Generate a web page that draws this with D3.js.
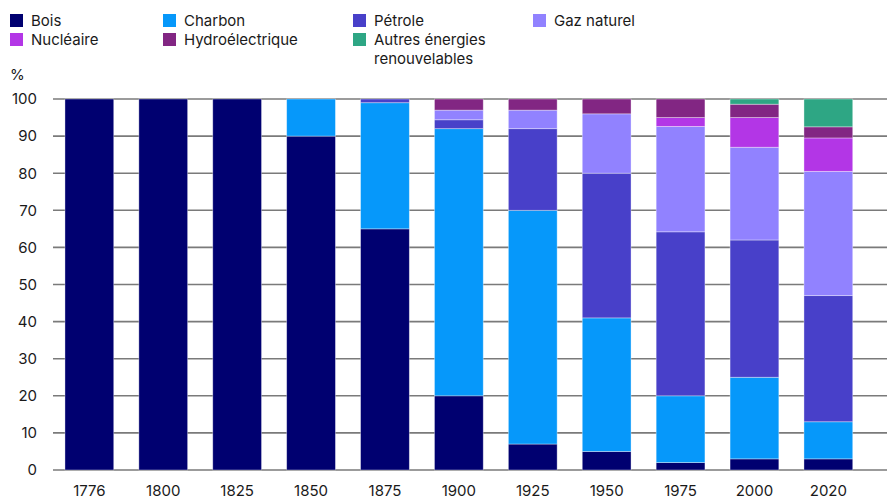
<!DOCTYPE html>
<html>
<head>
<meta charset="utf-8">
<script src="https://cdn.jsdelivr.net/npm/d3@7"></script>
<style>
  html, body { margin: 0; padding: 0; background: #fff; }
  svg { display: block; font-family: Inter, "Noto Sans", sans-serif; }
</style>
</head>
<body>
<svg id="chart" width="887" height="499"></svg>
<script>
// Années
const years = ["1776", "1800", "1825", "1850", "1875", "1900", "1925", "1950", "1975", "2000", "2020"];

// Part de chaque source dans la consommation d'énergie (%)
const bois          = [100, 100, 100, 90, 65, 20, 7, 5, 2, 3, 3];
const charbon       = [0, 0, 0, 10, 34, 72, 63, 36, 18, 22, 10];
const petrole       = [0, 0, 0, 0, 1, 2.4, 22, 39, 44.2, 37, 34];
const gazNaturel    = [0, 0, 0, 0, 0, 2.6, 5, 16, 28.4, 25, 33.5];
const nucleaire     = [0, 0, 0, 0, 0, 0, 0, 0, 2.4, 8, 9];
const hydro         = [0, 0, 0, 0, 0, 3, 3, 4, 5, 3.6, 3];
const autresRenouv  = [0, 0, 0, 0, 0, 0, 0, 0, 0, 1.4, 7.5];

const yTicks = [0, 10, 20, 30, 40, 50, 60, 70, 80, 90, 100];

const seriesDefs = [
  { key: "bois",   label: ["Bois"],                             values: bois,         color: "#000070" },
  { key: "charb",  label: ["Charbon"],                          values: charbon,      color: "#0698fa" },
  { key: "petr",   label: ["Pétrole"],                          values: petrole,      color: "#4840c9" },
  { key: "gaz",    label: ["Gaz naturel"],                      values: gazNaturel,   color: "#9182ff" },
  { key: "nuc",    label: ["Nucléaire"],                        values: nucleaire,    color: "#b336e6" },
  { key: "hydro",  label: ["Hydroélectrique"],                  values: hydro,        color: "#822683" },
  { key: "autres", label: ["Autres énergies", "renouvelables"], values: autresRenouv, color: "#2ea684" }
];

const rows = years.map((y, i) => {
  const r = { year: y };
  seriesDefs.forEach(s => { r[s.key] = s.values[i]; });
  return r;
});

const stack = d3.stack().keys(seriesDefs.map(s => s.key));
const stacked = stack(rows);

const svg = d3.select("#chart");
const margin = { left: 52.4, right: 865.3, top: 99, bottom: 470 };

const x = d3.scaleBand()
  .domain(years)
  .range([margin.left, margin.right])
  .paddingInner(0.34)
  .paddingOuter(0.17);

const y = d3.scaleLinear().domain([0, 100]).range([margin.bottom, margin.top]);

// Lignes de grille
svg.append("g")
  .selectAll("line")
  .data(yTicks)
  .join("line")
  .attr("x1", 53)
  .attr("x2", 887)
  .attr("y1", d => y(d))
  .attr("y2", d => y(d))
  .attr("stroke", "#7a7a7a")
  .attr("stroke-width", 1.6);

// Axe vertical (libellés seulement)
const yAxis = svg.append("g")
  .attr("transform", "translate(53,0)")
  .call(d3.axisLeft(y).tickValues(yTicks).tickSize(0).tickPadding(16));
yAxis.select(".domain").remove();
yAxis.selectAll("text")
  .attr("font-size", 15)
  .attr("fill", "#1a1a1a")
  .attr("font-family", "Inter, 'Noto Sans', sans-serif");

// Axe horizontal (années)
const xAxis = svg.append("g")
  .attr("transform", `translate(0,${margin.bottom})`)
  .call(d3.axisBottom(x).tickSize(0).tickPadding(15));
xAxis.select(".domain").remove();
xAxis.selectAll("text")
  .attr("font-size", 15)
  .attr("fill", "#1a1a1a")
  .attr("font-family", "Inter, 'Noto Sans', sans-serif");

// Barres empilées
const colorOf = Object.fromEntries(seriesDefs.map(s => [s.key, s.color]));
svg.append("g")
  .selectAll("g")
  .data(stacked)
  .join("g")
  .attr("fill", d => colorOf[d.key])
  .selectAll("rect")
  .data(d => d.filter(p => p[1] - p[0] > 0))
  .join("rect")
  .attr("x", d => x(d.data.year))
  .attr("width", x.bandwidth())
  .attr("y", d => y(d[1]))
  .attr("height", d => y(d[0]) - y(d[1]))
  .attr("stroke", "rgba(255,255,255,0.45)")
  .attr("stroke-width", 0.8);

// Légende
const legendCols = [10, 163, 353, 533];
const legendItems = [
  { s: seriesDefs[0], col: 0, row: 0 },
  { s: seriesDefs[1], col: 1, row: 0 },
  { s: seriesDefs[2], col: 2, row: 0 },
  { s: seriesDefs[3], col: 3, row: 0 },
  { s: seriesDefs[4], col: 0, row: 1 },
  { s: seriesDefs[5], col: 1, row: 1 },
  { s: seriesDefs[6], col: 2, row: 1 }
];
const legend = svg.append("g");
legendItems.forEach(it => {
  const gx = legendCols[it.col];
  const gy = 14 + it.row * 19;
  legend.append("rect")
    .attr("x", gx).attr("y", gy)
    .attr("width", 13).attr("height", 13)
    .attr("fill", it.s.color);
  const t = legend.append("text")
    .attr("x", gx + 21)
    .attr("y", gy + 12)
    .attr("font-size", 15)
    .attr("fill", "#1a1a1a");
  it.s.label.forEach((line, k) => {
    t.append("tspan").attr("x", gx + 21).attr("dy", k === 0 ? 0 : 19).text(line);
  });
});

// Unité
svg.append("text")
  .attr("x", 10).attr("y", 80)
  .attr("font-size", 15)
  .attr("fill", "#1a1a1a")
  .text("%");
</script>
</body>
</html>
